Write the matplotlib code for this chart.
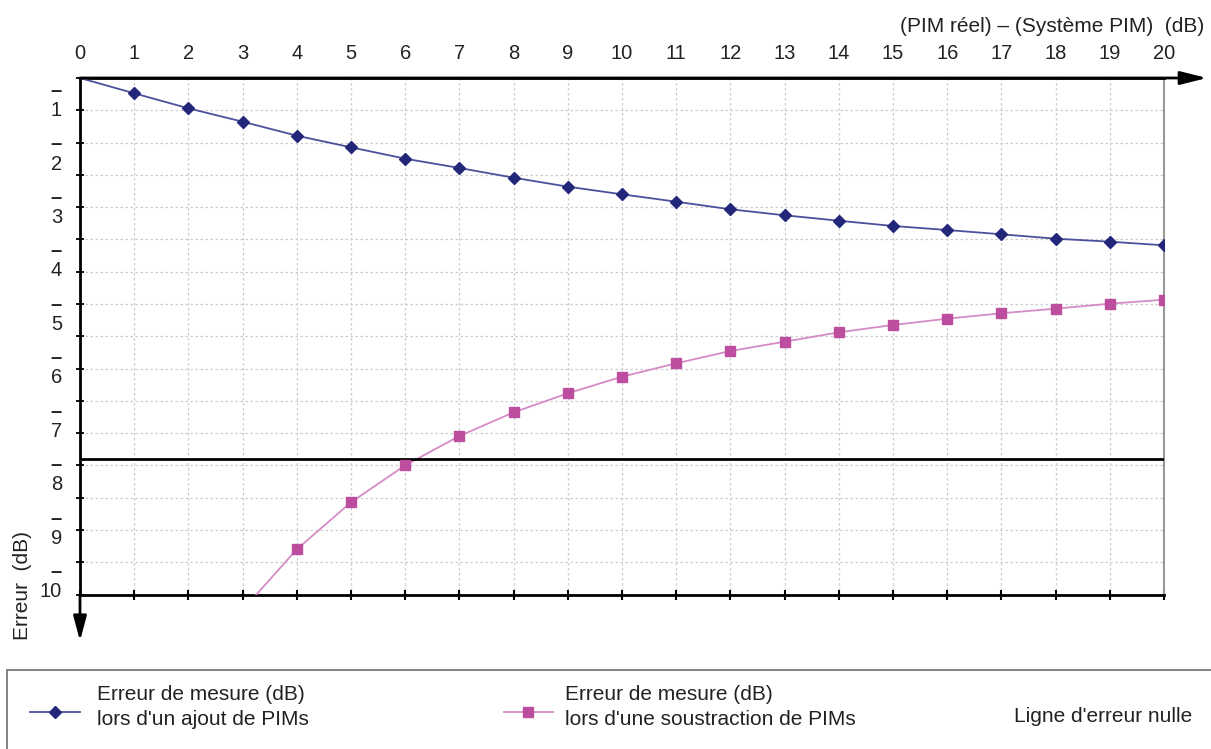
import numpy as np
import matplotlib
matplotlib.use("Agg")
import matplotlib.pyplot as plt
from matplotlib.lines import Line2D
from matplotlib.patches import Rectangle

plt.rcParams['font.family'] = ['Liberation Sans', 'DejaVu Sans']

# ---- data ----
x_add = list(range(0, 21))
err_add = [0.0, 0.296, 0.587, 0.846, 1.117, 1.342, 1.562, 1.742, 1.930, 2.104, 2.252,
           2.395, 2.542, 2.658, 2.763, 2.865, 2.943, 3.026, 3.111, 3.169, 3.239]
x_sub = list(range(3, 21))
err_sub = [10.30, 9.125, 8.215, 7.499, 6.931, 6.473, 6.105, 5.783, 5.524, 5.286,
           5.105, 4.924, 4.782, 4.660, 4.555, 4.466, 4.370, 4.292]
null_line = 7.37
x_ticks = list(range(0, 21))
y_labels = ["1", "2", "3", "4", "5", "6", "7", "8", "9", "10"]

legend_add = "Erreur de mesure (dB)\nlors d'un ajout de PIMs"
legend_sub = "Erreur de mesure (dB)\nlors d'une soustraction de PIMs"
legend_null = "Ligne d'erreur nulle"
x_title = "(PIM réel) – (Système PIM)  (dB)"
y_title = "Erreur  (dB)"

BLUE_M = '#23277a'
BLUE_L = '#4b4f9c'
PINK_M = '#bd4d9e'
PINK_L = '#d58bc6'

W, H = 1211, 749
fig = plt.figure(figsize=(W / 100, H / 100), dpi=100)

def fx(px):
    return px / W

def fy(py):
    return 1 - py / H

ax_l, ax_r, ax_t, ax_b = 80, 1164, 78, 594.5
ax = fig.add_axes([fx(ax_l), fy(ax_b), (ax_r - ax_l) / W, (ax_b - ax_t) / H])
ax.set_xlim(0, 20)
ax.set_ylim(10, 0)

# grid
ax.set_xticks(x_ticks)
ax.set_yticks(np.linspace(0, 10, 17))
ax.grid(True, color='#cdcdcd', linestyle=(0, (2, 2)), linewidth=0.9)
ax.set_axisbelow(True)

# tick styling
ax.tick_params(axis='x', which='major', top=True, labeltop=True, bottom=True,
               labelbottom=False, direction='inout', length=7, width=1.5,
               labelsize=14.5, pad=7, colors='black')
for t in ax.xaxis.get_major_ticks():
    t.tick2line.set_visible(False)
ax.set_xticklabels([str(v) for v in x_ticks], color='#222222')
ax.tick_params(axis='y', which='major', left=True, right=False, labelleft=False,
               direction='inout', length=6, width=1.3)

for s in ['left', 'top', 'bottom']:
    ax.spines[s].set_linewidth(2)
    ax.spines[s].set_color('black')
ax.spines['right'].set_color('#999999')
ax.spines['right'].set_linewidth(1.5)

# y labels (numbers and dashes)
ytr = ax.get_yaxis_transform()
lab_x = -(ax_l - 62) / (ax_r - ax_l)
num_pos = np.linspace(0.63, 9.95, len(y_labels))
for lab, yp in zip(y_labels, num_pos):
    ax.text(lab_x, yp, lab, transform=ytr, ha='right', va='center',
            fontsize=14.5, color='#222222', clip_on=False)
    ax.text(lab_x, yp - 0.39, '–', transform=ytr, ha='right', va='center',
            fontsize=14.5, fontweight='bold', color='#222222', clip_on=False)

# data
ax.plot(x_add, err_add, color=BLUE_L, lw=1.3, zorder=3)
ax.plot(x_add[1:], err_add[1:], linestyle='none', marker='D', ms=6,
        color=BLUE_M, zorder=4)
ax.plot(x_sub, err_sub, color=PINK_L, lw=1.3, zorder=3)
ax.plot(x_sub, err_sub, linestyle='none', marker='s', ms=6.5,
        color=PINK_M, zorder=4)
ax.axhline(null_line, color='black', lw=2, zorder=3)

# axis arrows
ax.annotate('', xy=((1207 - ax_l) / (ax_r - ax_l), 1), xytext=(0, 1),
            xycoords='axes fraction', textcoords='axes fraction',
            arrowprops=dict(arrowstyle='-|>,head_length=0.8,head_width=0.2',
                            mutation_scale=20, color='black', lw=2,
                            shrinkA=0, shrinkB=0), annotation_clip=False)
ax.annotate('', xy=(0, -(641 - ax_b) / (ax_b - ax_t)), xytext=(0, 0),
            xycoords='axes fraction', textcoords='axes fraction',
            arrowprops=dict(arrowstyle='-|>,head_length=0.75,head_width=0.2',
                            mutation_scale=20, color='black', lw=2,
                            shrinkA=0, shrinkB=0), annotation_clip=False)

# titles
fig.text(fx(1204), fy(27), x_title, ha='right', va='center', fontsize=15,
         color='#222222')
fig.text(fx(23), fy(585), y_title, ha='center', va='center', rotation=90,
         fontsize=15, color='#222222')

# legend box
fig.add_artist(Rectangle((fx(7), fy(770)), fx(1220) - fx(7), fy(670) - fy(770),
                         transform=fig.transFigure, fill=False,
                         edgecolor='#7a7a7a', lw=1.3))
fig.add_artist(Line2D([fx(30), fx(80)], [fy(712), fy(712)], color=BLUE_L, lw=1.3,
                      transform=fig.transFigure))
fig.add_artist(Line2D([fx(55)], [fy(712)], marker='D', ms=6, color=BLUE_M,
                      transform=fig.transFigure))
fig.text(fx(97), fy(707), legend_add, ha='left', va='center', fontsize=15,
         linespacing=1.45, color='#222222')
fig.add_artist(Line2D([fx(504), fx(553)], [fy(712), fy(712)], color=PINK_L, lw=1.3,
                      transform=fig.transFigure))
fig.add_artist(Line2D([fx(528)], [fy(712)], marker='s', ms=6.5, color=PINK_M,
                      transform=fig.transFigure))
fig.text(fx(565), fy(707), legend_sub, ha='left', va='center', fontsize=15,
         linespacing=1.45, color='#222222')
fig.text(fx(1192), fy(716), legend_null, ha='right', va='center', fontsize=15,
         color='#222222')

fig.savefig('out.png', dpi=100)
